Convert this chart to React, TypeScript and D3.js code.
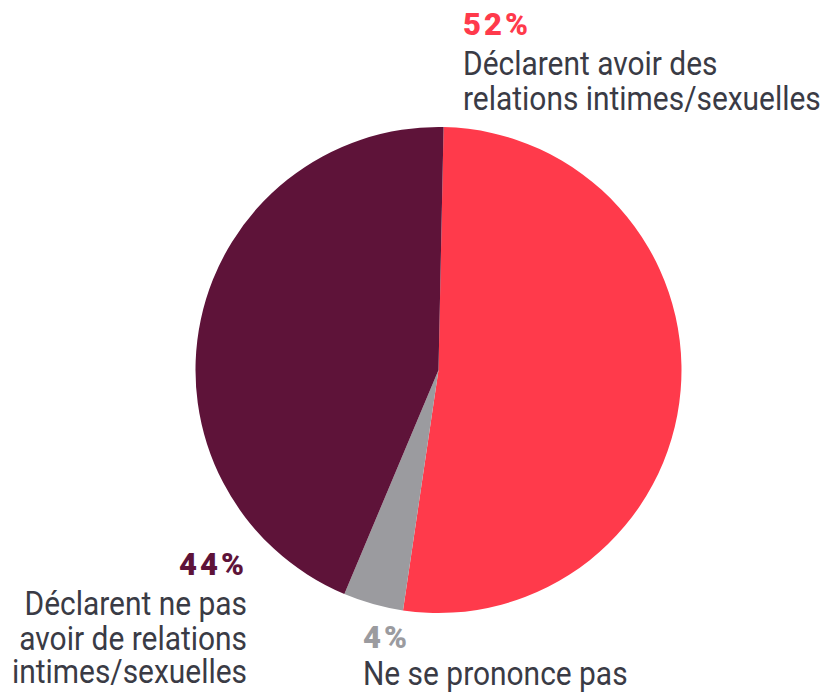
import React from "react";
import * as d3 from "d3";

const categories = ["Déclarent avoir des relations intimes/sexuelles", "Ne se prononce pas", "Déclarent ne pas avoir de relations intimes/sexuelles"];
const values = [52, 4, 44];
const colors = ["#FF3A4B", "#9B9B9F", "#5E1339"];
const pctLabels = ["52%", "4%", "44%"];
const labelLines = [
  ["Déclarent avoir des", "relations intimes/sexuelles"],
  ["Ne se prononce pas"],
  ["Déclarent ne pas", "avoir de relations", "intimes/sexuelles"],
];

export default function App() {
  const W = 828, H = 692;
  const cx = 438.5, cy = 370, r = 243;
  const offset = (1.2 * Math.PI) / 180;
  const pie = d3.pie<number>().sort(null).startAngle(offset).endAngle(2 * Math.PI + offset);
  const arcs = pie(values);
  const arc = d3.arc<d3.PieArcDatum<number>>().innerRadius(0).outerRadius(r);
  const textColor = "#3a3b45";
  const sx = 0.88;
  const font = "Roboto, sans-serif";

  const labelPos = [
    { x: 463, y: 35, anchor: "start", gaps: [40, 35] },
    { x: 363, y: 648, anchor: "start", gaps: [37] },
    { x: 247, y: 575, anchor: "end", gaps: [40, 35, 33] },
  ];

  return (
    <svg width={W} height={H} style={{ position: "absolute", left: 0, top: 0 }}>
      <rect width={W} height={H} fill="#fff" />
      <g transform={`translate(${cx},${cy})`}>
        {arcs.map((a, i) => (
          <path key={categories[i]} d={arc(a) || ""} fill={colors[i]} />
        ))}
      </g>
      {labelPos.map((p, i) => {
        let y = p.y;
        const ys = [y];
        p.gaps.forEach((g) => { y += g; ys.push(y); });
        return (
          <g key={i} fontFamily={font} textAnchor={p.anchor}>
            <text x={p.x} y={ys[0]} fontSize={31} fontWeight={900} fill={colors[i]} letterSpacing={3}>{pctLabels[i]}</text>
            <g transform={`translate(${p.x},0) scale(${sx},1)`}>
              {labelLines[i].map((l, j) => (
                <text key={j} x={0} y={ys[j + 1]} fontSize={34} fill={textColor}>{l}</text>
              ))}
            </g>
          </g>
        );
      })}
    </svg>
  );
}
